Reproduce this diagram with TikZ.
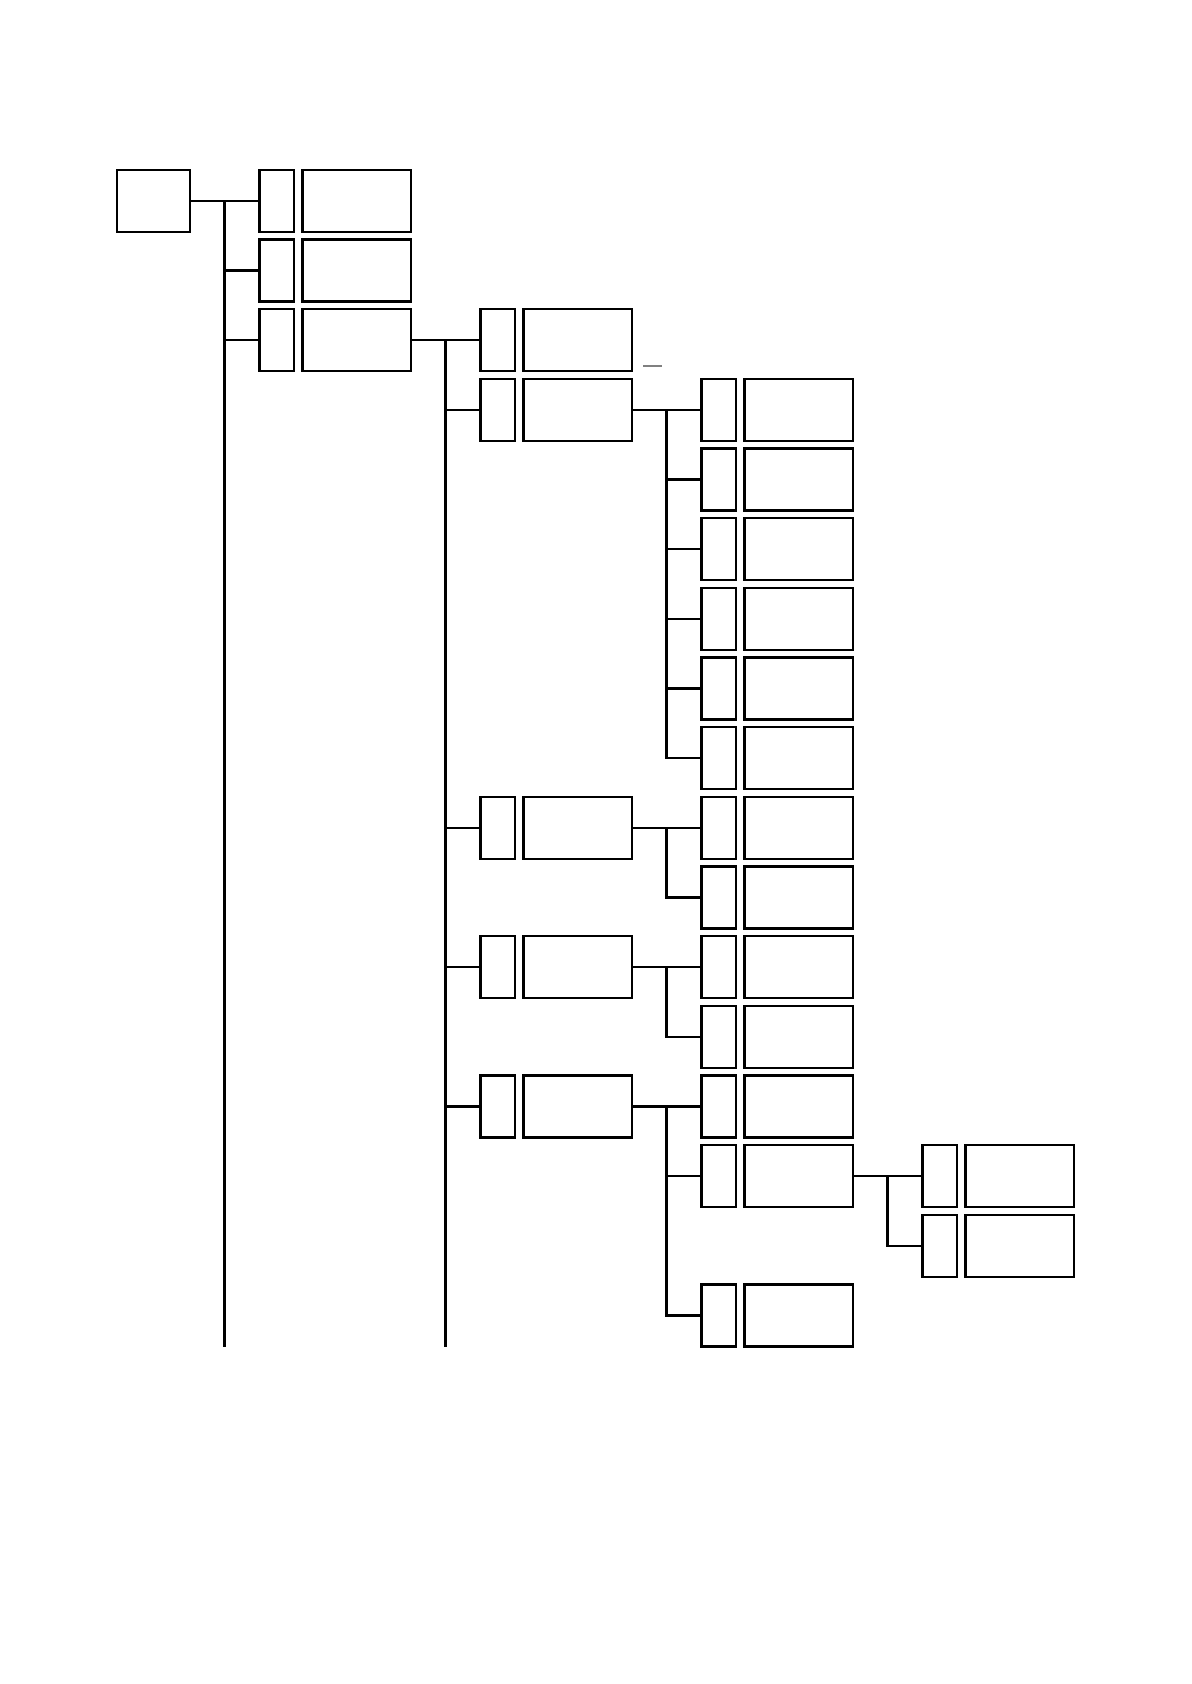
\documentclass[tikz,border=0pt]{standalone}
\begin{document}
\begin{tikzpicture}[x=0.5pt,y=-0.5pt,
  box/.style={draw=black,line width=1.15pt,rectangle,inner sep=0pt,minimum height=31pt},
  rootbox/.style={box,minimum width=36.65pt},
  sbox/.style={box,minimum width=17.35pt},
  bbox/.style={box,minimum width=54.35pt},
  link/.style={draw=black,line width=1.15pt},
  stray/.style={draw=gray,line width=1pt}]
\useasboundingbox (0,0) rectangle (1191,1684);
% root
\node[rootbox] (root) at (153.3,201) {};
% level 1
\node[sbox] (s10) at (276.7,201) {};   \node[bbox] (b10) at (356.7,201) {};
\node[sbox] (s11) at (276.7,270.65) {};\node[bbox] (b11) at (356.7,270.65) {};
\node[sbox] (s12) at (276.7,340.3) {}; \node[bbox] (b12) at (356.7,340.3) {};
% level 2
\node[sbox] (s22) at (497.7,340.3) {};  \node[bbox] (b22) at (577.7,340.3) {};
\node[sbox] (s23) at (497.7,409.95) {}; \node[bbox] (b23) at (577.7,409.95) {};
\node[sbox] (s29) at (497.7,827.85) {}; \node[bbox] (b29) at (577.7,827.85) {};
\node[sbox] (s211) at (497.7,967.15) {};\node[bbox] (b211) at (577.7,967.15) {};
\node[sbox] (s213) at (497.7,1106.45) {};\node[bbox] (b213) at (577.7,1106.45) {};
% level 3
\node[sbox] (s33) at (718.7,409.95) {}; \node[bbox] (b33) at (798.7,409.95) {};
\node[sbox] (s34) at (718.7,479.6) {};  \node[bbox] (b34) at (798.7,479.6) {};
\node[sbox] (s35) at (718.7,549.25) {}; \node[bbox] (b35) at (798.7,549.25) {};
\node[sbox] (s36) at (718.7,618.9) {};  \node[bbox] (b36) at (798.7,618.9) {};
\node[sbox] (s37) at (718.7,688.55) {}; \node[bbox] (b37) at (798.7,688.55) {};
\node[sbox] (s38) at (718.7,758.2) {};  \node[bbox] (b38) at (798.7,758.2) {};
\node[sbox] (s39) at (718.7,827.85) {}; \node[bbox] (b39) at (798.7,827.85) {};
\node[sbox] (s310) at (718.7,897.5) {}; \node[bbox] (b310) at (798.7,897.5) {};
\node[sbox] (s311) at (718.7,967.15) {};\node[bbox] (b311) at (798.7,967.15) {};
\node[sbox] (s312) at (718.7,1036.8) {};\node[bbox] (b312) at (798.7,1036.8) {};
\node[sbox] (s313) at (718.7,1106.45) {};\node[bbox] (b313) at (798.7,1106.45) {};
\node[sbox] (s314) at (718.7,1176.1) {};\node[bbox] (b314) at (798.7,1176.1) {};
\node[sbox] (s316) at (718.7,1315.4) {};\node[bbox] (b316) at (798.7,1315.4) {};
% level 4
\node[sbox] (s414) at (939.7,1176.1) {}; \node[bbox] (b414) at (1019.7,1176.1) {};
\node[sbox] (s415) at (939.7,1245.75) {};\node[bbox] (b415) at (1019.7,1245.75) {};
% trunk coordinates
\coordinate (t1top) at (224.5,201);
\coordinate (t1bot) at (224.5,1347);
\coordinate (t2top) at (445.5,340.3);
\coordinate (t2bot) at (445.5,1347);
\coordinate (t3a) at (666.5,409.95);
\coordinate (t3b) at (666.5,827.85);
\coordinate (t3c) at (666.5,967.15);
\coordinate (t3d) at (666.5,1106.45);
\coordinate (t4a) at (887.5,1176.1);
% connectors level 1
\draw[link] (root.east) -- (s10.west);
\draw[link] (t1top) -- (t1bot);
\draw[link] (s11.west -| t1top) -- (s11.west);
\draw[link] (s12.west -| t1top) -- (s12.west);
% level 2
\draw[link] (b12.east) -- (s22.west);
\draw[link] (t2top) -- (t2bot);
\draw[link] (s23.west -| t2top) -- (s23.west);
\draw[link] (s29.west -| t2top) -- (s29.west);
\draw[link] (s211.west -| t2top) -- (s211.west);
\draw[link] (s213.west -| t2top) -- (s213.west);
% level 3 group A
\draw[link] (b23.east) -- (s33.west);
\draw[link] (t3a) |- (s38.west);
\draw[link] (s34.west -| t3a) -- (s34.west);
\draw[link] (s35.west -| t3a) -- (s35.west);
\draw[link] (s36.west -| t3a) -- (s36.west);
\draw[link] (s37.west -| t3a) -- (s37.west);
% group B
\draw[link] (b29.east) -- (s39.west);
\draw[link] (t3b) |- (s310.west);
% group C
\draw[link] (b211.east) -- (s311.west);
\draw[link] (t3c) |- (s312.west);
% group D
\draw[link] (b213.east) -- (s313.west);
\draw[link] (t3d) |- (s316.west);
\draw[link] (s314.west -| t3d) -- (s314.west);
% level 4
\draw[link] (b314.east) -- (s414.west);
\draw[link] (t4a) |- (s415.west);
% stray mark
\coordinate (d1) at (643,366);
\coordinate (d2) at (662,366);
\draw[stray] (d1) -- (d2);
\end{tikzpicture}
\end{document}
